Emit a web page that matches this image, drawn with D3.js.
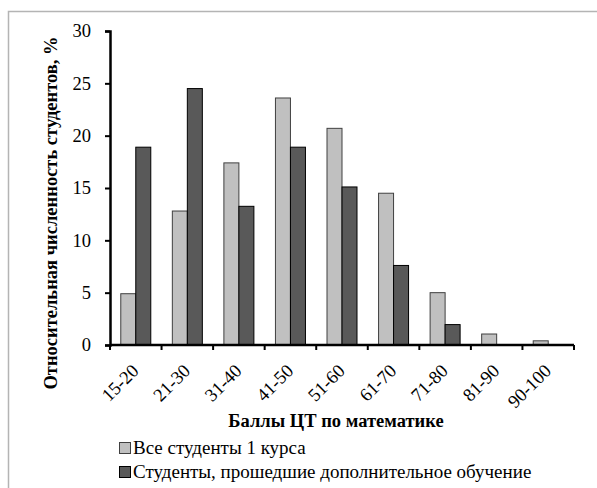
<!DOCTYPE html>
<html>
<head>
<meta charset="utf-8">
<script src="https://cdn.jsdelivr.net/npm/d3@7"></script>
<style>
  body { margin: 0; background: #fff; }
</style>
</head>
<body>
<div id="chart"></div>
<script>
const categories = ["15-20", "21-30", "31-40", "41-50", "51-60", "61-70", "71-80", "81-90", "90-100"];
const allStudents = [4.9, 12.8, 17.4, 23.6, 20.7, 14.5, 5.0, 1.05, 0.4];
const extraStudents = [18.9, 24.5, 13.25, 18.9, 15.1, 7.6, 1.95, 0, 0];
const seriesNames = ["Все студенты 1 курса", "Студенты, прошедшие дополнительное обучение"];
const yTicks = [0, 5, 10, 15, 20, 25, 30];

const FONT = "Liberation Serif";
const W = 597, H = 488;
const svg = d3.select("#chart").append("svg").attr("width", W).attr("height", H);

// рамка диаграммы
svg.append("rect").attr("x", 8.5).attr("y", 11.5).attr("width", 620).attr("height", 500)
  .attr("fill", "none").attr("stroke", "#b4b4b4").attr("stroke-width", 1.5);

const x0 = 110, x1 = 574, yTop = 31, yBot = 345;
const x = d3.scaleBand().domain(categories).range([x0, x1]).paddingInner(0).paddingOuter(0);
const y = d3.scaleLinear().domain([0, 30]).range([yBot, yTop]);
const barW = 15;

const rows = categories.map((c, i) => ({ c, a: allStudents[i], b: extraStudents[i] }));

const g = svg.append("g");
rows.forEach((d) => {
  const cx = x(d.c) + x.bandwidth() / 2;
  g.append("rect").attr("x", cx - barW).attr("y", y(d.a)).attr("width", barW).attr("height", yBot - y(d.a))
    .attr("fill", "#c0c0c0").attr("stroke", "#404040").attr("stroke-width", 1);
  if (d.b > 0) {
    g.append("rect").attr("x", cx).attr("y", y(d.b)).attr("width", barW).attr("height", yBot - y(d.b))
      .attr("fill", "#595959").attr("stroke", "#000").attr("stroke-width", 1);
  }
});

// ось Y
const yAxis = svg.append("g").attr("transform", `translate(${x0},0)`)
  .call(d3.axisLeft(y).tickValues(yTicks).tickSize(5).tickPadding(14));
yAxis.attr("font-family", FONT).attr("font-size", 18.5);
yAxis.select(".domain").attr("stroke", "#000").attr("stroke-width", 2.5);
yAxis.selectAll(".tick line").attr("stroke", "#000").attr("stroke-width", 2);
yAxis.selectAll(".tick text").attr("fill", "#000");

// ось X
const xAxis = svg.append("g").attr("transform", `translate(0,${yBot})`);
xAxis.append("line").attr("x1", x0).attr("x2", x1).attr("y1", 0).attr("y2", 0)
  .attr("stroke", "#000").attr("stroke-width", 2.5);
categories.concat(["end"]).forEach((c, i) => {
  const tx = i < categories.length ? x(c) : x1;
  xAxis.append("line").attr("x1", tx).attr("x2", tx).attr("y1", 0).attr("y2", 5)
    .attr("stroke", "#000").attr("stroke-width", 2);
});
categories.forEach((c) => {
  const cx = x(c) + x.bandwidth() / 2;
  xAxis.append("text").attr("transform", `translate(${cx + 4},${27}) rotate(-45)`)
    .attr("text-anchor", "end").attr("font-family", FONT).attr("font-size", 18.5).text(c);
});

svg.append("text").attr("x", 336).attr("y", 427).attr("text-anchor", "middle")
  .attr("font-family", FONT).attr("font-size", 18.5).attr("font-weight", "bold").text("Баллы ЦТ по математике");

svg.append("text").attr("transform", "translate(57,213) rotate(-90)").attr("text-anchor", "middle")
  .attr("font-family", FONT).attr("font-size", 18.5).attr("font-weight", "bold")
  .text("Относительная численность студентов, %");

// легенда
const legend = svg.append("g");
[["#c0c0c0", "#404040"], ["#595959", "#000"]].forEach((col, i) => {
  const ly = 448 + i * 24;
  legend.append("rect").attr("x", 119.5).attr("y", ly - 5.5).attr("width", 11).attr("height", 11)
    .attr("fill", col[0]).attr("stroke", col[1]).attr("stroke-width", 1);
  legend.append("text").attr("x", 133).attr("y", ly + 6).attr("font-family", FONT)
    .attr("font-size", 19).text(seriesNames[i]);
});
</script>
</body>
</html>
